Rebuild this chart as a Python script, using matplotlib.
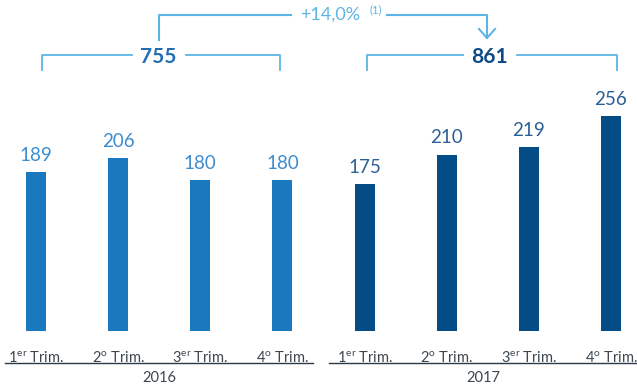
import numpy as np
import matplotlib.pyplot as plt

plt.rcParams['font.family'] = ['Lato', 'DejaVu Sans']
plt.rcParams['mathtext.fontset'] = 'custom'
plt.rcParams['mathtext.rm'] = 'Lato'

# data
years = ['2016', '2017']
quarters = ['1$^{\\mathrm{er}}$ Trim.', '2$^{\\mathrm{o}}$ Trim.',
            '3$^{\\mathrm{er}}$ Trim.', '4$^{\\mathrm{o}}$ Trim.']
values_2016 = [189, 206, 180, 180]
values_2017 = [175, 210, 219, 256]
totals = [755, 861]
growth_label = '+14,0%'

c16 = '#1a79be'
c17 = '#044c86'
light = '#5db5e6'
grey = '#3b4650'

W, H = 637, 387
fig = plt.figure(figsize=(W / 100, H / 100), dpi=100)

# bar axes: zero line at y=331px, x slots 82.14px apart starting at 36px
step = 82.14
ax = fig.add_axes([0, (H - 331) / H, 1, 331 / H])
ax.set_xlim(-36 / step, (W - 36) / step)
ax.set_ylim(0, 331 / 0.84)
ax.axis('off')

x16 = np.arange(4)
x17 = np.arange(4, 8)
ax.bar(x16, values_2016, width=20 / step, color=c16)
ax.bar(x17, values_2017, width=20 / step, color=c17)

for xs, vals, col in [(x16, values_2016, '#3d8ccf'), (x17, values_2017, '#2c5f94')]:
    for xi, v in zip(xs, vals):
        ax.annotate(str(v), (xi, v), xytext=(0, 8), textcoords='offset points',
                    ha='center', va='baseline', fontsize=13.5, color=col)

# quarter labels under the bars
for xi, lab in zip(np.arange(8), quarters * 2):
    ax.annotate(lab, (xi, 0), xytext=(0, -14), textcoords='offset points',
                ha='center', va='top', fontsize=10.5, color=grey)

# overlay in pixel coordinates for brackets and headers
ov = fig.add_axes([0, 0, 1, 1])
ov.set_xlim(0, W)
ov.set_ylim(H, 0)
ov.axis('off')

# year lines
ov.plot([5, 313], [363, 363], color='#2d3947', lw=1)
ov.plot([329, 637], [363, 363], color='#2d3947', lw=1)
ov.text(159, 378, years[0], ha='center', va='center', fontsize=10.5, color=grey)
ov.text(483, 378, years[1], ha='center', va='center', fontsize=10.5, color=grey)

# group total brackets
def bracket(x0, x1, xm, label, col):
    ov.plot([x0, x0, xm - 26], [70, 55, 55], color=light, lw=1.3)
    ov.plot([xm + 28, x1, x1], [55, 55, 70], color=light, lw=1.3)
    ov.text(xm, 57, label, ha='center', va='center', fontsize=15,
            fontweight='bold', color=col)

bracket(42, 280, 158, str(totals[0]), '#1f6db4')
bracket(367, 617, 489, str(totals[1]), '#0b4a85')

# growth arrow
ov.plot([159, 159, 291], [40, 15, 15], color=light, lw=1.5)
ov.plot([387, 487, 487], [15, 15, 38], color=light, lw=1.5)
ov.plot([479, 487, 495], [29, 38, 29], color=light, lw=1.5)
ov.text(330, 15, growth_label, ha='center', va='center', fontsize=13,
        color=light)
ov.text(376, 10, '(1)', ha='center', va='center', fontsize=8, color=light)

fig.savefig('out.png', dpi=100)
